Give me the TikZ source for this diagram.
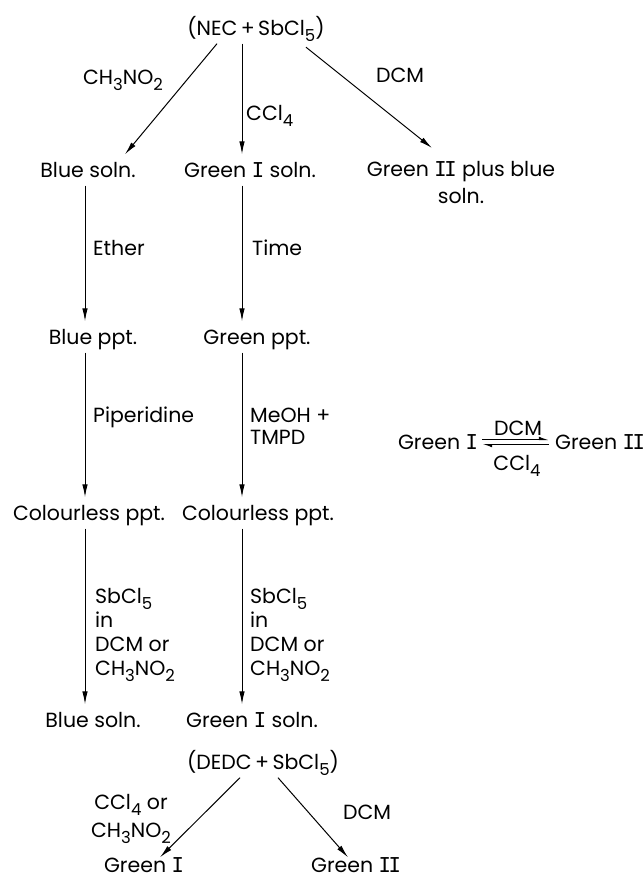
\documentclass[tikz,border=0pt]{standalone}
\usepackage{fontspec}
\setmainfont{Poppins}
\newfontfamily\numfont{DejaVu Sans Mono}
\usetikzlibrary{arrows.meta,calc}
% lowered, slightly smaller subscript digits
\newcommand\sbs[1]{\raisebox{-0.3em}{\fontsize{16.5}{16.5}\selectfont #1}}
% serifed roman numerals
\newcommand\RI{{\numfont I}}
\newcommand\RII{{\numfont I\kern-0.12em I}}

\begin{document}
\begin{tikzpicture}[x=1pt,y=1pt,
  every node/.style={font=\fontsize{20.5}{24}\selectfont, inner sep=0pt},
  chem/.style={text height=15pt,text depth=0pt,inner ysep=8pt},
  lbl/.style={align=left,anchor=base west},
  arr/.style={line width=1pt,-{Latex[length=13pt,width=5.5pt]}},
  harp/.style={line width=1pt,-{Latex[harpoon,length=8pt,width=6pt]}}]
\useasboundingbox (0,0) rectangle (644,-879);

% arrow columns
\coordinate (cL) at (85,0);
\coordinate (cM) at (242,0);

% species
\node[chem] (top)  at (256,-28)  {(NEC\,+\,SbCl\sbs5)};
\node[chem] (bs1)  at (88,-170)  {Blue soln.};
\node[chem] (gs1)  at (250,-170) {Green \RI\ soln.};
\node[align=center,anchor=north,font=\fontsize{20.5}{27}\selectfont] (g2) at (461,-161)
  {Green \RII\ plus blue\\soln.};
\node[chem] (bp)   at (93,-337)  {Blue ppt.};
\node[chem] (gp)   at (257,-337) {Green ppt.};
\node[chem] (cp1)  at (89,-513)  {Colourless ppt.};
\node[chem] (cp2)  at (258,-513) {Colourless ppt.};
\node[chem] (bs2)  at (93,-720)  {Blue soln.};
\node[chem] (gs2)  at (252,-720) {Green \RI\ soln.};
\node[chem] (dedc) at (263,-762) {(DEDC\,+\,SbCl\sbs5)};
\node[chem,inner ysep=4pt] (gI)   at (144,-865) {Green \RI};
\node[chem,inner ysep=4pt] (gII)  at (356,-865) {Green \RII};

% equilibrium
\node[chem] (eqI)  at (438,-442) {Green \RI};
\node[chem] (eqII) at (600,-442) {Green \RII};
\draw[harp] ($(eqI.east)+(4,2.5)$) -- ($(eqII.west)+(-6,2.5)$);
\draw[harp] ($(eqII.west)+(-6,-2.5)$) -- ($(eqI.east)+(4,-2.5)$);
\node[chem] (eqDCM) at (518,-428) {DCM};
\node[chem] (eqCCl) at (517,-463) {CCl\sbs4};

% first branching
\draw[arr] ($(top.south)+(-39,0)$) -- ($(bs1.north)+(37,0)$);
\draw[arr] (top.south -| cM) -- (gs1.north -| cM);
\draw[arr] ($(top.south)+(50,-3.5)$) -- ($(g2.north)+(-29,13)$);
\node[chem] (lCH) at (123,-77) {CH\sbs3NO\sbs2};
\node[lbl] (lCCl) at (246,-120.5) {CCl\sbs4};
\node[chem] (lDCM) at (400,-75) {DCM};

% columns
\draw[arr] (bs1.south -| cL) -- (bp.north -| cL);
\draw[arr] (gs1.south -| cM) -- (gp.north -| cM);
\draw[arr] (bp.south -| cL) -- (cp1.north -| cL);
\draw[arr] (gp.south -| cM) -- (cp2.north -| cM);
\draw[arr] (cp1.south -| cL) -- (bs2.north -| cL);
\draw[arr] (cp2.south -| cM) -- (gs2.north -| cM);

% conditions beside the columns (base = baseline of the last line)
\node[lbl] (lEther) at (93,-255.5) {Ether};
\node[lbl] (lTime)  at (252,-255.5) {Time};
\node[lbl] (lPip)   at (93,-422.5) {Piperidine};
\node[lbl,font=\fontsize{20.5}{22}\selectfont] (lMeOH) at (250,-444.5) {MeOH +\\TMPD};
\node[lbl,font=\fontsize{20.5}{24}\selectfont] (lSbL) at (95,-675.5)
  {SbCl\sbs5\\in\\DCM or\\CH\sbs3NO\sbs2};
\node[lbl,font=\fontsize{20.5}{24}\selectfont] (lSbR) at (250,-675.5)
  {SbCl\sbs5\\in\\DCM or\\CH\sbs3NO\sbs2};

% second branching
\draw[arr] ($(dedc.south)+(-23,0)$) -- ($(gI.north)+(16,-4)$);
\draw[arr] ($(dedc.south)+(15,0)$) -- ($(gII.north)+(-8,-4)$);
\node[align=center,anchor=base,font=\fontsize{20.5}{28}\selectfont] (lBL) at (131,-837.5)
  {CCl\sbs4 or\\CH\sbs3NO\sbs2};
\node[chem] (lDCM2) at (367,-812) {DCM};
\end{tikzpicture}
\end{document}
